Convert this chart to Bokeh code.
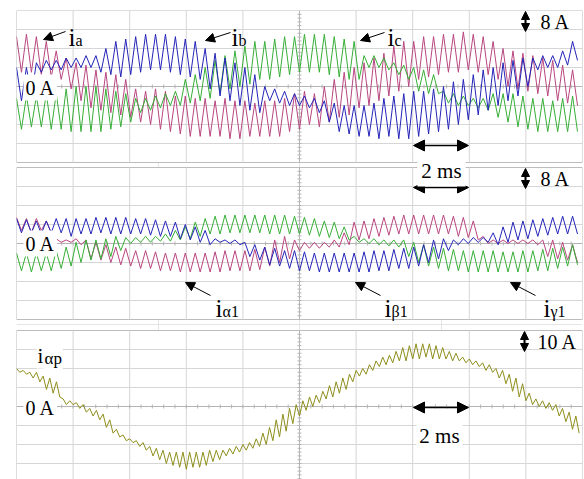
import numpy as np
from bokeh.plotting import figure
from bokeh.models import Range1d, Label, Arrow, NormalHead
from bokeh.embed import file_html
from bokeh.resources import INLINE

# ---------------- data (amps), read per ripple cycle: peak / trough ----------------
# panel 1 : phase currents, 8 A/div
ia_hi = [21, 22, 21, 19, 15, 12, 10, 9, 7, 6, 5, 3, -1, -2, -1, -2, -4, -4, -5, -5,
         -6, -5, -6, -6, -7, -6, -6, -5, -3, -2, -3, 0, 3, 6, 8, 10, 12, 14, 17, 19,
         19, 21, 21, 22, 22, 23, 22, 21, 19, 16, 15, 14, 13, 12, 11, 9, 7]
ia_lo = [6, 6, 5, 4, 3, -1, -6, -9, -10, -11, -12, -13, -15, -16, -18, -19, -20, -21, -21, -21,
         -21, -22, -22, -21, -21, -21, -21, -19, -18, -16, -17, -15, -13, -12, -9, -8, -6, -4, -2, 0,
         3, 4, 5, 6, 6, 7, 6, 5, 3, 0, -1, -2, -3, -4, -6, -7, -8]
ib_hi = [8, 8, 10, 11, 11, 12, 12, 13, 13, 16, 19, 20, 21, 22, 22, 22, 21, 20, 19, 16,
         14, 12, 10, 8, 5, 0, -1, -2, -3, -4, -5, -6, -7, -8, -8, -8, -7, -5, -4, -3,
         -2, -2, -1, 0, 2, 3, 5, 7, 8, 10, 11, 12, 12, 13, 13, 15, 19]
ib_lo = [-6, -4, 6, 7, 7, 8, 8, 8, 6, 5, 4, 5, 6, 7, 7, 6, 5, 4, 3, -1,
         -4, -6, -8, -10, -11, -6, -7, -8, -8, -9, -11, -15, -19, -20, -21, -21, -22, -21, -22, -22,
         -21, -20, -19, -18, -16, -14, -12, -10, -8, -6, -4, 0, 7, 8, 8, 9, 11]
ic_hi = [-5, -4, -4, -3, -3, -1, 0, 0, 0, -1, -2, -3, -5, -5, -4, -3, -2, 3, 5, 8,
         11, 13, 15, 17, 19, 19, 20, 21, 21, 22, 22, 22, 21, 20, 19, 13, 13, 12, 10, 9,
         8, 7, 5, -2, -3, -4, -5, -5, -3, -3, -3, -4, -5, -5, -6, -5, -4]
ic_lo = [-18, -17, -17, -18, -18, -19, -19, -19, -19, -18, -17, -15, -11, -10, -9, -8, -8, -7, -6, -5,
         -3, -1, 0, 1, 3, 3, 4, 5, 6, 6, 6, 5, 4, 3, 3, 8, 8, 7, 5, 3,
         -2, -3, -3, -7, -8, -8, -9, -10, -13, -15, -17, -18, -19, -19, -19, -19, -19]

# panel 2 : alpha/beta/gamma currents, 8 A/div
ia1_hi = [11, 10.5, 10.5, 9.5, 2, 1.5, 2, 1.5, 0.5, -0.5, -1.5, -2, -3, -3, -3.5, -4, -4, -4, -4, -4,
          -3.5, -3, -3, -3, -2.5, -1.5, 1.5, 3, 1.5, 0.5, 0.5, 0.5, 1.5, 4.5, 9, 9.5, 10.5, 11, 11.5, 12,
          12, 12, 12, 12, 11.5, 11, 9.5, 3, 1.5, 1.5, 1.5, 1.5, 1.5, 1.5, 1.5, 0.5, -0.5]
ia1_lo = [5.5, 4.5, 5.5, 4.5, 0.5, 0.5, -0.5, -6.5, -7, -8, -9, -9.5, -10.5, -10.5, -11.5, -11.5, -12, -12, -12, -12,
          -12, -11.5, -11.5, -11.5, -11, -9.5, -8, -6.5, -3, -2, -2, -1.5, -1.5, -0.5, 1.5, 2, 3, 3.5, 4, 4,
          4, 4, 4, 4, 3, 2.5, 1.5, 0, 0, 0, 0, 0, -0.5, -5.5, -6.5, -7, -8]
ib1_hi = [10.5, 10, 9.5, 9.5, 10.5, 10.5, 10.5, 10.5, 11, 11, 11, 11, 10.5, 10.5, 10, 9.5, 9, 8, 7, 5.5,
          2, 1.5, 1.5, 0.5, -0.5, -1.5, -2, -3, -3, -3.5, -4, -4, -4, -4, -4, -3.5, -3, -3, -2.5, -2,
          -1.5, -0.5, 1.5, 2, 1.5, 2, 2.5, 2.5, 4.5, 7, 9, 9.5, 10, 10.5, 11, 11.5, 11.5]
ib1_lo = [4.5, 4.5, 4, 4.5, 4.5, 3, 4, 4, 4.5, 4, 4, 4, 4, 3.5, 3, 3, 2, 1.5, 0.5, -0.5,
          0.5, 0, -0.5, -5.5, -7, -9, -9.5, -10.5, -11.5, -11.5, -12, -12, -12, -12, -12, -12, -11.5, -11.5, -10.5, -10.5,
          -9.5, -8, -6.5, -3, -0.5, 0, 0.5, 0.5, -0.5, 0.5, 1.5, 2, 3, 3.5, 4, 4, 4]
ig1_hi = [-4, -4, -4, -4, -3, -1.5, 0.5, 1.5, 1.5, 2, 3, 2.5, 2.5, 3, 3, 4, 5.5, 7, 9, 10.5,
          11.5, 12, 12, 12, 12, 12, 12, 12, 11.5, 11, 10.5, 9.5, 9, 7, 3, 2, 2, 1.5, 1.5, 1.5,
          0.5, -0.5, -1.5, -2, -2.5, -3, -3, -3, -3, -3.5, -3.5, -3, -3, -2.5, -2, -1.5, -0.5]
ig1_lo = [-11.5, -12, -11.5, -11.5, -10.5, -9.5, -8, -7, -6.5, -5.5, -3, 0, 0.5, 0.5, 1, 1, 1.5, 2, 3, 4,
          4, 4.5, 4.5, 4.5, 4.5, 4, 4, 4, 4, 3.5, 3, 2.5, 2, 1.5, 0.5, 0, -0.5, -1, -1.5, -5.5,
          -8, -9.5, -10.5, -11.5, -11.5, -12, -12, -12, -12, -12, -12, -12, -11.5, -11.5, -10.5, -9.5, -9]

# panel 3 : i_alpha_p, 10 A/div
iap_hi = [20, 19, 18, 18, 16, 15, 13, 4, 3, 2, 1, -1, -2, -4, -7, -12, -15, -17, -18, -19,
          -21, -22, -23, -24, -24, -24, -24, -24, -24, -23, -23, -23, -22, -21, -20, -19, -17, -14, -11, -7,
          -4, -1, 1, 3, 5, 6, 8, 11, 13, 15, 17, 19, 20, 22, 24, 26, 27, 29, 31, 32,
          33, 33, 33, 32, 31, 29, 28, 26, 25, 24, 23, 22, 20, 19, 17, 15, 12, 7, 4, 3,
          2, 1, -1, -3, -5]
iap_lo = [18, 17, 15, 13, 9, 7, 5, 1, 1, -1, -3, -5, -7, -11, -14, -16, -18, -19, -21, -23,
          -26, -28, -30, -31, -32, -33, -32, -32, -31, -29, -28, -26, -25, -24, -23, -22, -21, -20, -18, -16,
          -13, -9, -5, -2, 0, 2, 4, 5, 7, 9, 13, 16, 17, 19, 21, 22, 23, 24, 24, 25,
          25, 26, 25, 25, 25, 24, 24, 23, 22, 21, 19, 18, 15, 12, 8, 5, 3, 1, 0, -1,
          -2, -5, -8, -12, -14]

SCREEN_MS = 20.0
A_PER_DIV = {"p1": 8.0, "p2": 8.0, "p3": 10.0}

# ---------------- geometry ----------------
W, H = 584, 479
LEFT, RIGHT, TOP = 16, 582, 10
FRAME_H = H - TOP
DIV_PX = 19.0
PANEL_TOP = {"p1": 10, "p2": 167, "p3": 330}


def px_per_amp(name):
    return DIV_PX / A_PER_DIV[name]


def panel_range(name):
    s = px_per_amp(name)
    end = 4 * A_PER_DIV[name] + (PANEL_TOP[name] - TOP) / s
    return end - FRAME_H / s, end


def tx(xpx):
    return (xpx - LEFT) / (RIGHT - LEFT) * SCREEN_MS


def ay(ypx):  # annotations all placed on the default (panel 1) range
    return (PANEL_TOP["p1"] + 4 * DIV_PX - ypx) / px_per_amp("p1")


def zig(hi, lo):
    out = []
    for h, l in zip(hi, lo):
        out += [h, l]
    return out


s1, e1 = panel_range("p1")
p = figure(width=W, height=H, x_range=Range1d(0, SCREEN_MS), y_range=Range1d(s1, e1),
           x_axis_location=None, y_axis_location=None, toolbar_location=None,
           output_backend="svg", title=None,
           min_border_left=LEFT, min_border_right=W - RIGHT, min_border_top=TOP, min_border_bottom=0)
p.outline_line_color = None
p.background_fill_color = "white"
p.border_fill_color = "white"
for nm in ("p2", "p3"):
    s, e = panel_range(nm)
    p.extra_y_ranges[nm] = Range1d(s, e)

GRID = "#d6d6d6"
CENTER = "#b4b4b4"
OUTLINE = "#bcbcbc"

for nm in ("p1", "p2", "p3"):
    rn = "default" if nm == "p1" else nm
    d = A_PER_DIV[nm]
    top, bot = 4 * d, -4 * d
    p.quad(left=[0], right=[SCREEN_MS], bottom=[bot], top=[top], fill_color="white",
           line_color=OUTLINE, line_width=1, y_range_name=rn)
    vx = [2 * i for i in range(1, 10) if i != 5]
    p.segment(x0=vx, y0=[bot] * len(vx), x1=vx, y1=[top] * len(vx), line_color=GRID,
              line_width=1, y_range_name=rn)
    hy = [d * i for i in (-3, -2, -1, 1, 2, 3)]
    p.segment(x0=[0] * 6, y0=hy, x1=[SCREEN_MS] * 6, y1=hy, line_color=GRID,
              line_width=1, y_range_name=rn)
    # centre cross with minor ticks
    p.segment(x0=[10, 0], y0=[bot, 0], x1=[10, SCREEN_MS], y1=[top, 0], line_color=CENTER,
              line_width=1, y_range_name=rn)
    tk_t = list(np.arange(0.4, SCREEN_MS, 0.4))
    ha = 2.0 / px_per_amp(nm)
    p.segment(x0=tk_t, y0=[-ha] * len(tk_t), x1=tk_t, y1=[ha] * len(tk_t),
              line_color=CENTER, line_width=1, y_range_name=rn)
    tk_a = list(np.arange(bot + d / 5, top, d / 5))
    ht = 2.0 / (RIGHT - LEFT) * SCREEN_MS
    p.segment(x0=[10 - ht] * len(tk_a), y0=tk_a, x1=[10 + ht] * len(tk_a), y1=tk_a,
              line_color=CENTER, line_width=1, y_range_name=rn)

MAG, BLU, GRN, OLV = "#b8467f", "#2424b8", "#37ae37", "#8e8e1c"

n12 = len(ia_hi)
t12 = [i * SCREEN_MS / (2 * n12) for i in range(2 * n12)]
for hi, lo, c in ((ia_hi, ia_lo, MAG), (ic_hi, ic_lo, GRN), (ib_hi, ib_lo, BLU)):
    p.line(t12, zig(hi, lo), line_color=c, line_width=1)
for hi, lo, c in ((ia1_hi, ia1_lo, MAG), (ig1_hi, ig1_lo, GRN), (ib1_hi, ib1_lo, BLU)):
    p.line(t12, zig(hi, lo), line_color=c, line_width=1, y_range_name="p2")
n3 = len(iap_hi)
t3 = [i * SCREEN_MS / (2 * n3) for i in range(2 * n3)]
p.line(t3, zig(iap_hi, iap_lo), line_color=OLV, line_width=1, y_range_name="p3")

FONT = "Liberation Serif"


def lab(text, xpx, ypx, size, baseline="alphabetic", align="left", bg=None, pad=0):
    kw = {}
    if bg:
        kw = dict(background_fill_color=bg, background_fill_alpha=1.0, padding=pad)
    p.add_layout(Label(x=tx(xpx), y=ay(ypx), text=text, text_font=FONT,
                       text_font_size=f"{size}px", text_color="black",
                       text_align=align, text_baseline=baseline, **kw))


def arrow(x0, y0, x1, y1, size=9, both=False, width=1.0):
    head = dict(size=size, fill_color="black", line_color="black", line_width=1)
    p.add_layout(Arrow(x_start=tx(x0), y_start=ay(y0), x_end=tx(x1), y_end=ay(y1),
                       end=NormalHead(**head), start=NormalHead(**head) if both else None,
                       line_color="black", line_width=width))


# zero labels
for yc in (87, 243, 407):
    lab("0 A", 23, yc, 20, baseline="middle", bg="white", pad=2)

# scale labels
arrow(525, 31, 525, 11, size=8, both=True, width=2)
lab("8 A", 540, 21, 20, baseline="middle")
arrow(525, 188, 525, 168, size=8, both=True, width=2)
lab("8 A", 540, 178, 20, baseline="middle")
arrow(524, 351, 524, 331, size=8, both=True, width=2)
lab("10 A", 537, 341, 20, baseline="middle")

# time base
arrow(413, 145, 468, 145, size=11, both=True, width=1.5)
arrow(413, 187, 468, 187, size=11, both=True, width=1.5)
arrow(413, 407, 468, 407, size=11, both=True, width=1.5)
lab("2 ms", 441, 170, 21, align="center", bg="white", pad=4)
lab("2 ms", 439, 435, 21, align="center", bg="white", pad=3)

# trace names
arrow(65, 31, 43, 39)
lab("i", 68, 37, 25)
lab("a", 75, 40, 16)
arrow(230, 32, 205, 40)
lab("i", 231, 37, 25)
lab("b", 238, 40, 16)
arrow(384, 32, 360, 40)
lab("i", 387, 37, 25)
lab("c", 394, 40, 16)

arrow(210, 295, 185, 282)
lab("i", 215, 308, 25)
lab("α1", 222, 311, 16)
arrow(380, 295, 355, 282)
lab("i", 384, 308, 25)
lab("β1", 391, 311, 16)
arrow(535, 295, 510, 282)
lab("i", 543, 308, 25)
lab("γ1", 550, 311, 16)

lab("i", 36, 355, 21, bg="white", pad=1)
lab("αp", 43, 358, 17, bg="white", pad=1)

open("out.html", "w").write(file_html(p, INLINE))
